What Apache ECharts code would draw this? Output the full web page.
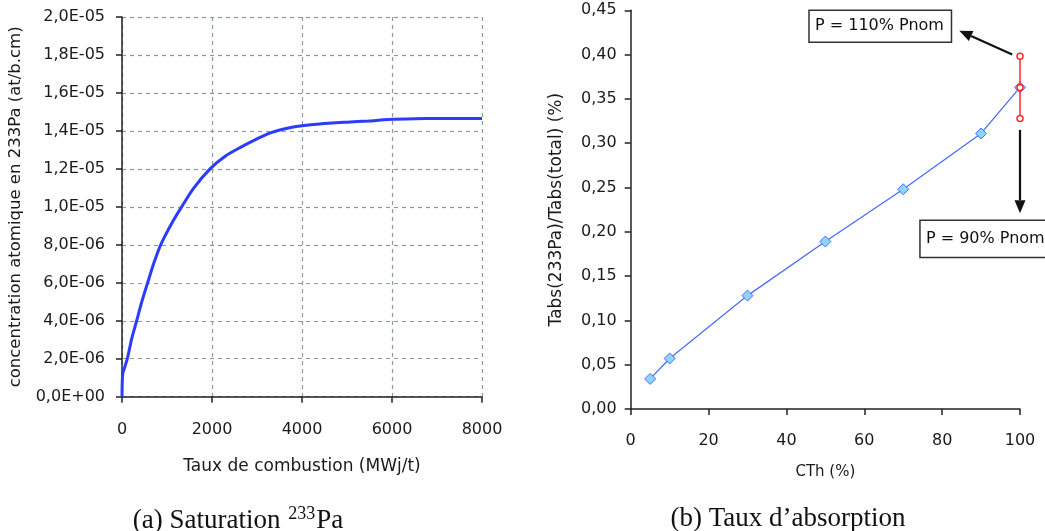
<!DOCTYPE html>
<html>
<head>
<meta charset="utf-8">
<script src="https://cdn.jsdelivr.net/npm/echarts@6/dist/echarts.min.js"></script>
<style>
html,body{margin:0;padding:0;background:#fff;}
#c{width:1045px;height:531px;}
</style>
</head>
<body>
<div id="c"></div>
<script>
// ---- Chart (a): saturation 233Pa ----
const burnup = [0, 15, 60, 118, 220, 326, 440, 570, 710, 860, 1140, 1326, 1585, 1956, 2300, 2622, 3000, 3300, 3700, 4000, 4400, 5000, 5470, 5920, 6500, 7000, 8000];
const concentration = [0, 1.2e-6, 1.55e-6, 2.0e-6, 3.1e-6, 4.0e-6, 5.0e-6, 6.0e-6, 7.05e-6, 8.0e-6, 9.28e-6, 10.0e-6, 10.96e-6, 12.0e-6, 12.68e-6, 13.12e-6, 13.58e-6, 13.9e-6, 14.15e-6, 14.27e-6, 14.37e-6, 14.46e-6, 14.52e-6, 14.6e-6, 14.64e-6, 14.65e-6, 14.65e-6];

// ---- Chart (b): absorption rate ----
const cth = [5, 10, 30, 50, 70, 90, 100];
const absRatio = [0.034, 0.057, 0.128, 0.189, 0.248, 0.311, 0.363];
const errCth = [100, 100, 100];
const errRatio = [0.398, 0.363, 0.328];

// annotations (data coordinates of chart b)
const annoLabels = ['P = 110% Pnom', 'P = 90% Pnom'];
const annoBoxes = [[45.8, 0.450, 82.4, 0.414], [74.3, 0.213, 112, 0.171]];
const annoArrows = [[98, 0.400, 84.4, 0.427], [100, 0.315, 100, 0.221]];

const FONT = 'DejaVu Sans';
const txt = '#1a1a1a';

function sciFmt(v) {
  if (v === 0) return '0,0E+00';
  const s = v.toExponential(1);
  const [m, e] = s.split('e');
  const sign = e[0] === '-' ? '-' : '+';
  const n = Math.abs(parseInt(e, 10));
  return m.replace('.', ',') + 'E' + sign + (n < 10 ? '0' + n : n);
}

const chart = echarts.init(document.getElementById('c'), null, {renderer: 'canvas'});

const axisLineStyle = {color: '#222', width: 1.5};
const capStyle = {fontFamily: 'Liberation Serif', fontSize: 27, fontWeight: 'normal', color: '#111'};
const option = {
  animation: false,
  backgroundColor: '#fff',
  title: [
    {
      text: '{n|(a) Saturation }{s|233}{n|Pa}',
      left: 233, top: 500, textAlign: 'center',
      textStyle: {fontWeight: 'normal', rich: {
        n: capStyle,
        s: {fontFamily: 'Liberation Serif', fontSize: 18, fontWeight: 'normal', color: '#111', verticalAlign: 'top', padding: [0, 1, 13, 1]}
      }}
    },
    {
      text: '(b) Taux d’absorption',
      left: 783, top: 500, textAlign: 'center',
      textStyle: capStyle
    }
  ],
  grid: [
    {left: 122, top: 17, width: 360, height: 379.7},
    {left: 630.7, top: 10.3, width: 389.3, height: 398.7}
  ],
  xAxis: [
    {
      gridIndex: 0, type: 'value', min: 0, max: 8000, interval: 2000,
      name: 'Taux de combustion (MWj/t)', nameLocation: 'middle', nameGap: 61,
      nameTextStyle: {fontFamily: FONT, fontSize: 17, color: txt},
      axisLine: {show: true, lineStyle: axisLineStyle},
      axisTick: {show: true, length: 6, lineStyle: axisLineStyle},
      axisLabel: {fontFamily: FONT, fontSize: 16, color: txt, margin: 25, formatter: v => String(v)},
      splitLine: {show: true, lineStyle: {color: '#8e9c98', type: [4, 4], width: 1.2}}
    },
    {
      gridIndex: 1, type: 'value', min: 0, max: 100, interval: 20,
      name: 'CTh (%)', nameLocation: 'middle', nameGap: 56,
      nameTextStyle: {fontFamily: FONT, fontSize: 15, color: txt},
      axisLine: {show: true, lineStyle: axisLineStyle},
      axisTick: {show: true, length: 6, lineStyle: axisLineStyle},
      axisLabel: {fontFamily: FONT, fontSize: 16, color: txt, margin: 24, formatter: v => String(v)},
      splitLine: {show: false}
    }
  ],
  yAxis: [
    {
      gridIndex: 0, type: 'value', min: 0, max: 2e-5, interval: 2e-6,
      name: 'concentration atomique en 233Pa (at/b.cm)', nameLocation: 'middle', nameGap: 98,
      nameTextStyle: {fontFamily: FONT, fontSize: 16.5, color: txt},
      axisLine: {show: true, lineStyle: axisLineStyle},
      axisTick: {show: true, length: 6, lineStyle: axisLineStyle},
      axisLabel: {fontFamily: FONT, fontSize: 16, color: txt, margin: 17, formatter: sciFmt},
      splitLine: {show: true, lineStyle: {color: '#8e9c98', type: [4, 4], width: 1.2}}
    },
    {
      gridIndex: 1, type: 'value', min: 0, max: 0.45, interval: 0.05,
      name: 'Tabs(233Pa)/Tabs(total) (%)', nameLocation: 'middle', nameGap: 66,
      nameTextStyle: {fontFamily: FONT, fontSize: 17, color: txt},
      axisLine: {show: true, lineStyle: axisLineStyle},
      axisTick: {show: true, length: 6, lineStyle: axisLineStyle},
      axisLabel: {fontFamily: FONT, fontSize: 16, color: txt, margin: 14, formatter: v => v.toFixed(2).replace('.', ',')},
      splitLine: {show: false}
    }
  ],
  series: [
    {
      type: 'line', xAxisIndex: 0, yAxisIndex: 0,
      data: burnup.map((b, i) => [b, concentration[i]]),
      smooth: 0.25, showSymbol: false, symbol: 'none',
      lineStyle: {color: '#2a3cff', width: 3}
    },
    {
      type: 'line', xAxisIndex: 1, yAxisIndex: 1,
      data: cth.map((c, i) => [c, absRatio[i]]),
      symbol: 'diamond', symbolSize: 11,
      itemStyle: {color: '#8fd3ff', borderColor: '#4a6dff', borderWidth: 1},
      lineStyle: {color: '#4a6dff', width: 1.3}
    },
    {
      type: 'line', xAxisIndex: 1, yAxisIndex: 1,
      data: errCth.map((c, i) => [c, errRatio[i]]),
      symbol: 'circle', symbolSize: 6,
      itemStyle: {color: '#fff', borderColor: '#ff2a2a', borderWidth: 1.5},
      lineStyle: {color: '#ff2a2a', width: 1.5},
      z: 5
    }
  ]
};
chart.setOption(option);

function px(x, y) { return chart.convertToPixel({gridIndex: 1}, [x, y]); }
const graphics = [];
annoBoxes.forEach((b, i) => {
  const p1 = px(b[0], b[1]), p2 = px(b[2], b[3]);
  graphics.push({
    type: 'rect', z: 100,
    shape: {x: p1[0], y: p1[1], width: p2[0] - p1[0], height: p2[1] - p1[1]},
    style: {fill: '#fff', stroke: '#333', lineWidth: 1.5}
  });
  graphics.push({
    type: 'text', z: 101, x: p1[0] + 6, y: (p1[1] + p2[1]) / 2,
    style: {text: annoLabels[i], fontFamily: FONT, fontSize: 16, fill: '#111', verticalAlign: 'middle'}
  });
});
annoArrows.forEach(a => {
  const s = px(a[0], a[1]), e = px(a[2], a[3]);
  const dx = e[0] - s[0], dy = e[1] - s[1];
  const L = Math.sqrt(dx * dx + dy * dy);
  const ux = dx / L, uy = dy / L;
  const hl = 13, hw = 5.5;
  const bx = e[0] - ux * hl, by = e[1] - uy * hl;
  graphics.push({
    type: 'line', z: 100,
    shape: {x1: s[0], y1: s[1], x2: bx, y2: by},
    style: {stroke: '#111', lineWidth: 2.2}
  });
  graphics.push({
    type: 'polygon', z: 100,
    shape: {points: [[e[0], e[1]], [bx - uy * hw, by + ux * hw], [bx + uy * hw, by - ux * hw]]},
    style: {fill: '#111'}
  });
});
chart.setOption({graphic: graphics});
</script>
</body>
</html>
